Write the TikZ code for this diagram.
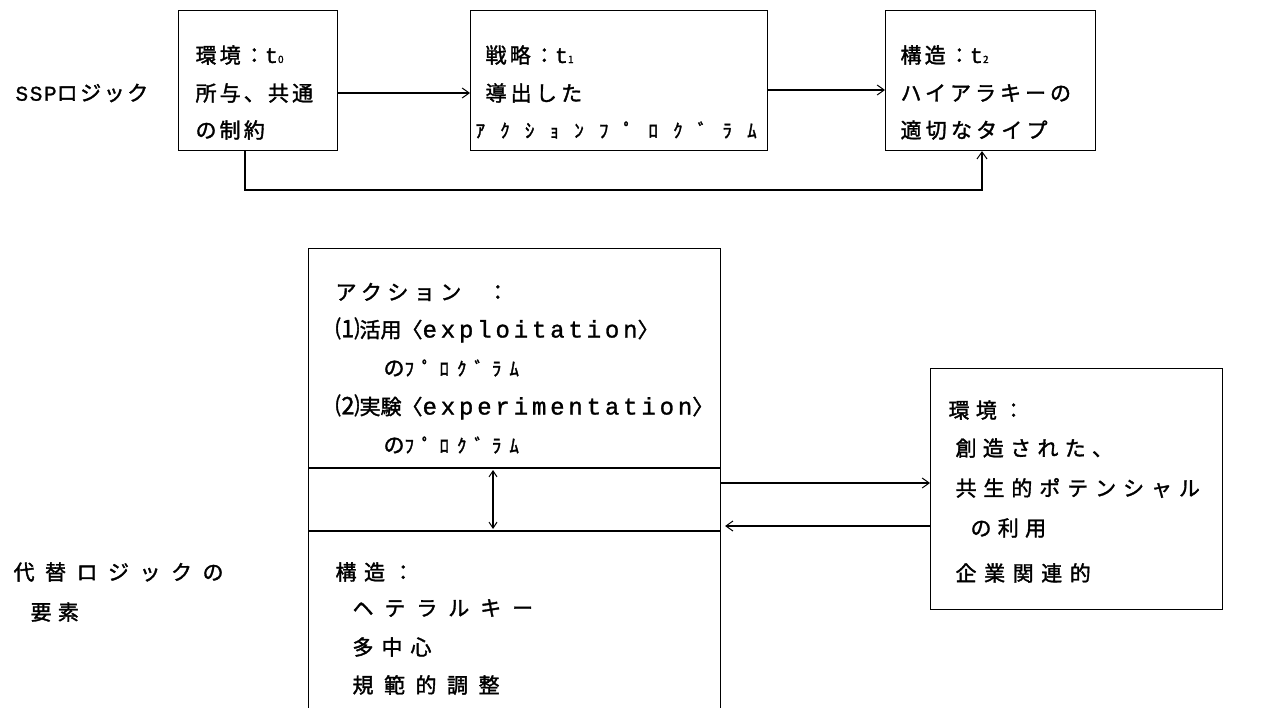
\documentclass[tikz,border=0pt]{standalone}
\usepackage{fontspec}
\setmainfont{Noto Sans CJK JP}[FakeBold=1.6]
\newfontfamily\monofnt{Liberation Mono}[FakeBold=1.2]
\usetikzlibrary{arrows.meta}
\newcommand\LS[2]{{\addfontfeature{LetterSpace=#1}#2}}
\newcommand\tsub[1]{{\monofnt\fontsize{22}{22}\selectfont t}{\fontsize{10}{10}\selectfont #1}}
\newcommand\lat[1]{{\monofnt\fontsize{24}{24}\selectfont\addfontfeature{LetterSpace=16}#1}}
\newcommand\hw[1]{{\fontsize{19}{19}\selectfont\addfontfeature{LetterSpace=42}#1}}
\begin{document}
\begin{tikzpicture}[x=1pt,y=-1pt,
  line width=1.1pt,
  box/.style={draw,rectangle,inner sep=0pt,anchor=north west},
  txt/.style={anchor=west,inner sep=0pt,font=\fontsize{21}{21}\selectfont},
  arr/.style={-{Straight Barb[length=7pt,width=10pt,line width=1pt]}},
  darr/.style={{Straight Barb[length=6pt,width=8pt,line width=1pt]}-{Straight Barb[length=6pt,width=8pt,line width=1pt]}},
]
\useasboundingbox (0,0) rectangle (1266,707);

% top row boxes
\node[box,minimum width=159pt,minimum height=140pt] (b1) at (178,10) {};
\node[box,minimum width=297pt,minimum height=140pt] (b2) at (470,10) {};
\node[box,minimum width=210pt,minimum height=140pt] (b3) at (885,10) {};

% lower boxes
\node[box,minimum width=412pt,minimum height=490pt] (big) at (308,248) {};
\node[box,minimum width=292pt,minimum height=241pt] (env) at (930,368) {};

\coordinate (s1) at (308,468);
\coordinate (s2) at (308,531);
\draw (s1) -- (big.east |- s1);
\draw (s2) -- (big.east |- s2);
\coordinate (m1) at (493,468);
\coordinate (m2) at (493,531);
\draw[darr,shorten <=2pt,shorten >=2pt] (m1) -- (m2);

% top arrows
\coordinate (r1) at (0,93);
\coordinate (r2) at (0,90);
\draw[arr] (b1.east |- r1) -- (b2.west |- r1);
\draw[arr] (b2.east |- r2) -- (b3.west |- r2);
\coordinate (fb1) at (245,190);
\coordinate (fb2) at (982,190);
\draw[arr] (b1.south -| fb1) -- (fb1) -- (fb2) -- (b3.south -| fb2);

% lower arrows
\coordinate (a1) at (0,483);
\coordinate (a2) at (0,526);
\draw[arr] (big.east |- a1) -- (env.west |- a1);
\draw[arr,shorten >=4pt] (env.west |- a2) -- (big.east |- a2);

% labels
\node[txt] (ssp) at (15,93) {{\monofnt\fontsize{21}{21}\selectfont\addfontfeature{LetterSpace=8}SSP}\LS{12}{ロジック}};
\node[txt] (alt1) at (13,572) {\LS{50}{代替ロジックの}};
\node[txt] (alt2) at (30,612) {\LS{30}{要素}};

% box 1
\node[txt] (b1a) at (195,55) {\LS{15}{環境：}\tsub{0}};
\node[txt] (b1b) at (195,93) {\LS{15}{所与、共通}};
\node[txt] (b1c) at (195,130) {\LS{15}{の制約}};
% box 2
\node[txt] (b2a) at (485,55) {\LS{15}{戦略：}\tsub{1}};
\node[txt] (b2b) at (485,93) {\LS{20}{導出した}};
\node[txt] (b2c) at (475,130) {{\fontsize{19}{19}\selectfont\addfontfeature{LetterSpace=80}ｱｸｼｮﾝﾌﾟﾛｸﾞﾗﾑ}};
% box 3
\node[txt] (b3a) at (900,55) {\LS{15}{構造：}\tsub{2}};
\node[txt] (b3b) at (900,93) {\LS{19}{ハイアラキーの}};
\node[txt] (b3c) at (900,130) {\LS{20}{適切なタイプ}};

% big box
\node[txt] (ac1) at (335,292) {\LS{26}{アクション}\hspace{26pt}：};
\node[txt] (ac2) at (335,330) {{\fontsize{24}{24}\selectfont ⑴}活用〈\lat{exploitation}〉};
\node[txt] (ac3) at (383,368) {の\hw{ﾌﾟﾛｸﾞﾗﾑ}};
\node[txt] (ac4) at (335,407) {{\fontsize{24}{24}\selectfont ⑵}実験〈\lat{experimentation}〉};
\node[txt] (ac5) at (383,445) {の\hw{ﾌﾟﾛｸﾞﾗﾑ}};
\node[txt] (st1) at (335,572) {\LS{36}{構造：}};
\node[txt] (st2) at (352,608) {\LS{52}{ヘテラルキー}};
\node[txt] (st3) at (352,647) {\LS{38}{多中心}};
\node[txt] (st4) at (352,685) {\LS{50}{規範的調整}};

% env box
\node[txt] (en1) at (948,410) {\LS{30}{環境：}};
\node[txt] (en2) at (955,448) {\LS{30}{創造された、}};
\node[txt] (en3) at (955,488) {\LS{33}{共生的ポテンシャル}};
\node[txt] (en4) at (970,528) {\LS{30}{の利用}};
\node[txt] (en5) at (955,573) {\LS{36}{企業関連的}};
\end{tikzpicture}
\end{document}
